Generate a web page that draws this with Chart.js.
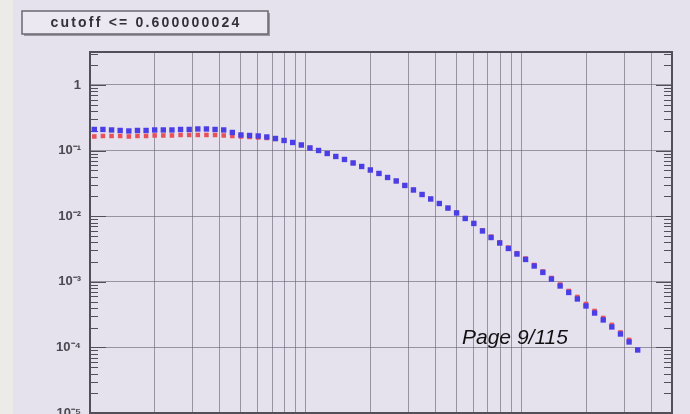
<!DOCTYPE html>
<html><head><meta charset="utf-8">
<script src="https://cdn.jsdelivr.net/npm/chart.js@4.4.0/dist/chart.umd.min.js"></script>
<style>
html,body{margin:0;padding:0;overflow:hidden;background:#e5e1ed;width:690px;height:414px;}
#strip{position:absolute;left:0;top:0;width:13px;height:414px;background:#ecebe7;}
#wrap{position:absolute;left:0;top:0;width:690px;height:430px;}
#c{filter:blur(0.6px);}
#page{position:absolute;left:462px;top:325px;font:italic 21px "Liberation Sans",Arial,sans-serif;color:#111;white-space:nowrap;}
</style></head><body>
<div id="strip"></div>
<div id="wrap"><canvas id="c" width="690" height="430"></canvas></div>
<div id="page">Page 9/115</div>
<script>
const titleText = 'cutoff <= 0.600000024';
const xBins = [1.047,1.148,1.259,1.380,1.514,1.660,1.820,1.995,2.188,2.399,2.630,2.884,3.162,3.467,3.802,4.169,4.571,5.012,5.495,6.026,6.607,7.244,7.943,8.710,9.550,10.47,11.48,12.59,13.80,15.14,16.60,18.20,19.95,21.88,23.99,26.30,28.84,31.62,34.67,38.02,41.69,45.71,50.12,54.95,60.26,66.07,72.44,79.43,87.10,95.50,104.7,114.8,125.9,138.0,151.4,166.0,182.0,199.5,218.8,239.9,263.0,288.4,316.2,346.7];
const blueValues = [0.2098,0.2098,0.2061,0.2025,0.1990,0.2025,0.2025,0.2061,0.2061,0.2061,0.2098,0.2098,0.2135,0.2135,0.2098,0.2061,0.1888,0.1729,0.1699,0.1670,0.1612,0.1529,0.1426,0.1329,0.1217,0.1095,0.1003,0.0903,0.0813,0.0732,0.0647,0.0572,0.0506,0.0448,0.0389,0.0344,0.0294,0.0251,0.0214,0.0183,0.0156,0.0133,0.0112,0.00922,0.00774,0.00595,0.00473,0.00390,0.00322,0.00265,0.00219,0.00174,0.00139,0.00110,0.000863,0.000687,0.000547,0.000428,0.000334,0.000262,0.000205,0.000160,0.000121,0.0000913];
const redValues = [0.1640,0.1670,0.1670,0.1670,0.1640,0.1670,0.1670,0.1699,0.1699,0.1699,0.1729,0.1729,0.1729,0.1729,0.1729,0.1699,0.1670,0.1640,0.1612,0.1584,0.1556,0.1502,0.1426,0.1329,0.1217,0.1095,0.1003,0.0903,0.0813,0.0732,0.0647,0.0572,0.0506,0.0448,0.0389,0.0344,0.0294,0.0251,0.0214,0.0183,0.0156,0.0133,0.0113,0.00935,0.00785,0.00610,0.00488,0.00400,0.00332,0.00273,0.00226,0.00180,0.001436,0.001143,0.000910,0.000724,0.000587,0.000459,0.000359,0.000281,0.000220,0.000169,0.000130];
const yTickValues = [1e-5,1e-4,1e-3,1e-2,1e-1,1];
const yTickLabels = ['10⁻⁵','10⁻⁴','10⁻³','10⁻²','10⁻¹','1'];
const xRange = [1, 500];
const yRange = [1e-5, 3.18];

const gridColor = 'rgba(100,95,110,0.6)';
const frameColor = '#524f58';

function isDecade(v){ const l = Math.log10(v); return Math.abs(l - Math.round(l)) < 1e-6; }
function logTicks(min, max){
  const t = [];
  for (let e = Math.floor(Math.log10(min)); e <= Math.ceil(Math.log10(max)); e++) {
    for (let k = 1; k <= 9; k++) {
      const v = k * Math.pow(10, e);
      if (v >= min * 0.999 && v <= max * 1.001) t.push({value: v});
    }
  }
  return t;
}

const decor = {
  id: 'decor',
  beforeDatasetsDraw(chart){
    const ctx = chart.ctx, a = chart.chartArea, ys = chart.scales.y;
    ctx.save();
    ctx.strokeStyle = frameColor;
    ctx.lineWidth = 1;
    ys.ticks.forEach(t => {
      const p = Math.round(ys.getPixelForValue(t.value)) + 0.5;
      const len = isDecade(t.value) ? 16 : 8;
      ctx.beginPath();
      ctx.moveTo(a.left, p); ctx.lineTo(a.left + len, p);
      ctx.moveTo(a.right, p); ctx.lineTo(a.right - len, p);
      ctx.stroke();
    });
    ctx.lineWidth = 2;
    ctx.strokeRect(a.left, a.top, a.right - a.left, a.bottom - a.top);
    ctx.restore();
  },
  afterDraw(chart){
    const ctx = chart.ctx;
    ctx.save();
    ctx.fillStyle = 'rgba(80,78,88,0.5)';
    ctx.fillRect(24, 13, 246, 23);
    ctx.fillStyle = '#ebe8f1';
    ctx.fillRect(22, 11, 246, 23);
    ctx.strokeStyle = '#6a6870';
    ctx.lineWidth = 1.5;
    ctx.strokeRect(22, 11, 246, 23);
    ctx.fillStyle = '#333238';
    ctx.font = 'bold 14px "Liberation Sans", Arial, sans-serif';
    ctx.letterSpacing = '2.2px';
    ctx.textAlign = 'center';
    ctx.textBaseline = 'middle';
    ctx.fillText(titleText, 146, 23);
    ctx.restore();
  }
};

new Chart(document.getElementById('c'), {
  type: 'scatter',
  data: {
    datasets: [
      {
        label: 'blue',
        data: xBins.map((x, i) => ({x, y: blueValues[i]})),
        backgroundColor: '#4a3ee6',
        borderColor: '#4a3ee6',
        borderWidth: 0,
        pointStyle: 'rect',
        pointRadius: 3.8,
        order: 0
      },
      {
        label: 'red',
        data: redValues.map((y, i) => ({x: xBins[i], y})),
        backgroundColor: '#e8505a',
        borderColor: '#e8505a',
        borderWidth: 0,
        pointStyle: 'rect',
        pointRadius: 3.2,
        order: 1
      }
    ]
  },
  options: {
    responsive: false,
    animation: false,
    events: [],
    layout: {padding: {top: 52, right: 18, left: 0, bottom: 0}},
    plugins: {legend: {display: false}, tooltip: {enabled: false}},
    scales: {
      x: {
        type: 'logarithmic', min: xRange[0], max: xRange[1],
        afterBuildTicks: s => { s.ticks = logTicks(xRange[0], xRange[1]); },
        afterFit: s => { s.height = 17; },
        ticks: {display: false},
        grid: {color: gridColor, lineWidth: 1, drawTicks: false},
        border: {display: false}
      },
      y: {
        type: 'logarithmic', min: yRange[0], max: yRange[1],
        afterBuildTicks: s => { s.ticks = logTicks(yRange[0], yRange[1]); },
        afterFit: s => { s.width = 90; },
        ticks: {
          autoSkip: false, padding: 9, color: '#4a4850',
          font: {family: '"Liberation Sans", Arial, sans-serif', size: 13, weight: 'bold'},
          callback: v => {
            const i = yTickValues.findIndex(t => Math.abs(t - v) / t < 1e-6);
            return i >= 0 ? yTickLabels[i] : '';
          }
        },
        grid: {
          color: c => (c.tick && isDecade(c.tick.value)) ? gridColor : 'rgba(0,0,0,0)',
          lineWidth: 1, drawTicks: false
        },
        border: {display: false}
      }
    }
  },
  plugins: [decor]
});
</script>
</body></html>
